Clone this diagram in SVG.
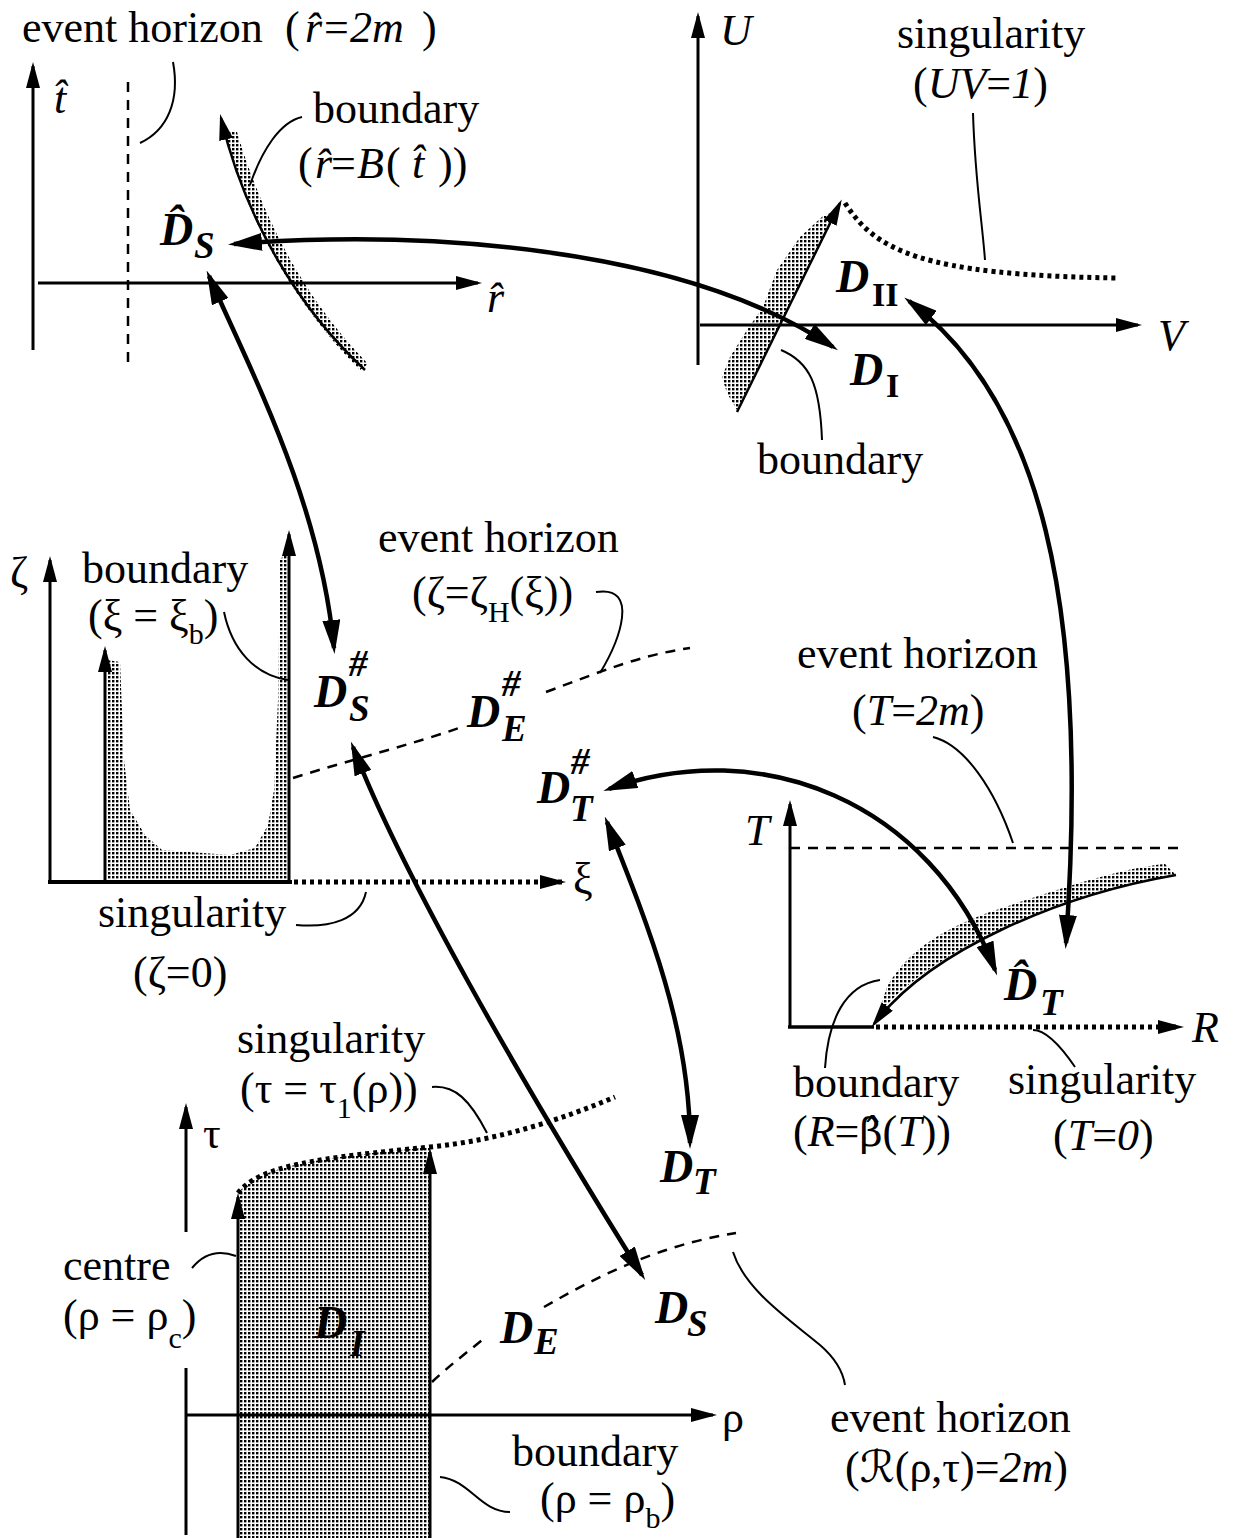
<svg xmlns="http://www.w3.org/2000/svg" width="1238" height="1538" viewBox="0 0 1238 1538">
<style>
text{font-family:"Liberation Serif","Times New Roman","DejaVu Serif","DejaVu Sans",serif;font-size:44px;fill:#000}
.it{font-style:italic}
.D{font-weight:bold;font-style:italic;font-size:46px}
.ds{font-weight:bold;font-style:italic;font-size:37px}
.sb{font-size:30px}
.bu{font-weight:bold;font-size:34px}
.ax{stroke:#000;stroke-width:3;fill:none}
.thick{stroke:#000;stroke-width:4.5;fill:none}
.thin{stroke:#000;stroke-width:2;fill:none}
.bd{stroke:#000;stroke-width:2.5;fill:none}
.dash{stroke:#000;stroke-width:2.5;fill:none;stroke-dasharray:10 8}
.dot{stroke:#000;stroke-width:5;fill:none;stroke-dasharray:4 4}
.shade{fill:url(#dots);stroke:none}
</style>
<defs>
<pattern id="dots" width="4" height="4" patternUnits="userSpaceOnUse"><rect width="2.4" height="2.4" fill="#000"/></pattern>
<marker id="ax" viewBox="0 0 26 14" refX="22" refY="7" markerWidth="26" markerHeight="14" markerUnits="userSpaceOnUse" orient="auto"><path d="M0,0 L26,7 L0,14 Z" fill="#000"/></marker>
<marker id="big" viewBox="0 0 34 18" refX="28" refY="9" markerWidth="34" markerHeight="18" markerUnits="userSpaceOnUse" orient="auto-start-reverse"><path d="M0,0 L34,9 L0,18 Z" fill="#000"/></marker>
</defs>
<rect width="1238" height="1538" fill="#fff"/>

<!-- Top-left panel (t-hat, r-hat) -->
<g id="panel-schwarzschild">
<path class="shade" d="M224,132 C 250,230 300,310 360,370 L368,364 C 308,302 265,226 237,132 Z"/>
<line class="ax" x1="33" y1="350" x2="33" y2="66" marker-end="url(#ax)"/>
<line class="ax" x1="38" y1="283" x2="478" y2="283" marker-end="url(#ax)"/>
<line class="dash" x1="128" y1="82" x2="128" y2="362"/>
<path class="bd" d="M365,370 C 300,310 245,220 221,118" marker-end="url(#ax)"/>
<path class="thin" d="M173,62 C 180,100 168,130 140,143"/>
<path class="thin" d="M302,117 C 280,122 262,150 250,185"/>
<text x="22" y="42">event horizon</text>
<text y="42"><tspan x="285">(</tspan><tspan class="it" x="305">r̂</tspan><tspan x="324">=</tspan><tspan class="it" x="350">2m</tspan><tspan x="422">)</tspan></text>
<text class="it" x="54" y="113">t̂</text>
<text class="it" x="487" y="312">r̂</text>
<text x="313" y="123">boundary</text>
<text y="178"><tspan x="298">(</tspan><tspan class="it" x="315">r̂</tspan><tspan x="331">=</tspan><tspan class="it" x="357">B</tspan><tspan x="386">(</tspan><tspan class="it" x="412">t̂</tspan><tspan x="438">))</tspan></text>
</g>
<g id="node-DS-hat"><text class="D" x="160" y="245">D̂</text><text class="ds" x="194" y="258">S</text></g>

<!-- Top-right panel (U, V) -->
<g id="panel-kruskal">
<path class="shade" d="M737,410 L838,210 L823,216 L800,237 L777,270 L763,307 L747,330 L730,357 L722,377 L727,393 Z"/>
<line class="ax" x1="698" y1="365" x2="698" y2="16" marker-end="url(#ax)"/>
<line class="ax" x1="700" y1="325" x2="1138" y2="325" marker-end="url(#ax)"/>
<line class="bd" x1="737" y1="412" x2="840" y2="203" marker-end="url(#ax)"/>
<path class="dot" d="M845,203 C 875,250 920,275 1116,278"/>
<path class="thin" d="M973,113 C 975,180 982,220 985,260"/>
<path class="thin" d="M781,350 C 810,362 820,385 822,440"/>
<text class="it" x="720" y="45">U</text>
<text class="it" x="1158" y="350">V</text>
<text x="897" y="48">singularity</text>
<text y="98"><tspan x="913">(</tspan><tspan class="it">UV</tspan>=<tspan class="it">1</tspan>)</text>
<text x="757" y="474">boundary</text>
</g>
<g id="node-DII"><text class="D" x="836" y="292">D</text><text class="bu" x="872" y="306">II</text></g>
<g id="node-DI"><text class="D" x="850" y="385">D</text><text class="bu" x="886" y="397">I</text></g>

<!-- Middle-left panel (zeta, xi) -->
<g id="panel-xi-zeta">
<path class="shade" d="M107,660 L120,662 L124,760 L130,810 L145,835 L162,850 L230,855 L255,848 L268,825 L274,790 L278,700 L280,560 L289,548 L289,880 L107,880 Z"/>
<line class="ax" x1="50" y1="883" x2="50" y2="560" marker-end="url(#ax)"/>
<line class="ax" x1="105" y1="880" x2="105" y2="650" marker-end="url(#ax)"/>
<line class="ax" x1="289" y1="880" x2="289" y2="534" marker-end="url(#ax)"/>
<line x1="48" y1="882" x2="292" y2="882" stroke="#000" stroke-width="4"/>
<line class="dot" x1="294" y1="882" x2="562" y2="882" marker-end="url(#ax)"/>
<path class="dash" d="M293,778 C 350,760 410,745 462,727"/>
<path class="dash" d="M546,692 C 600,672 640,655 690,648"/>
<path class="thin" d="M224,612 C 232,650 255,675 288,680"/>
<path class="thin" d="M596,592 C 640,585 620,640 600,673"/>
<path class="thin" d="M296,925 C 330,928 360,920 366,892"/>
<text x="10" y="587">ζ</text>
<text x="573" y="893">ξ</text>
<text x="82" y="583">boundary</text>
<text x="88" y="630">(ξ = ξ<tspan class="sb" dy="14">b</tspan><tspan dy="-14">)</tspan></text>
<text x="378" y="552">event horizon</text>
<text x="412" y="607">(ζ=ζ<tspan class="sb" dy="15">H</tspan><tspan dy="-15">(ξ))</tspan></text>
<text x="98" y="927">singularity</text>
<text x="133" y="987">(ζ=0)</text>
</g>
<g id="node-DS-sharp"><text class="D" x="314" y="707">D</text><text class="ds" x="349" y="676">#</text><text class="ds" x="349" y="721">S</text></g>
<g id="node-DE-sharp"><text class="D" x="467" y="727">D</text><text class="ds" x="502" y="696">#</text><text class="ds" x="502" y="741">E</text></g>
<g id="node-DT-sharp"><text class="D" x="537" y="803">D</text><text class="ds" x="571" y="774">#</text><text class="ds" x="570" y="821">T</text></g>

<!-- Middle-right panel (T, R) -->
<g id="panel-T-R">
<path class="shade" d="M1176,875 C 1060,895 930,950 878,1015 L887,987 C 905,955 935,932 990,912 C 1050,892 1120,868 1165,864 Z"/>
<line class="ax" x1="790" y1="1028" x2="790" y2="804" marker-end="url(#ax)"/>
<line x1="788" y1="1027" x2="874" y2="1027" stroke="#000" stroke-width="3.5"/>
<line class="dot" x1="876" y1="1027" x2="1180" y2="1027" marker-end="url(#ax)"/>
<line class="dash" x1="790" y1="848" x2="1178" y2="848"/>
<path class="bd" d="M1176,875 C 1060,895 930,950 874,1024" marker-end="url(#ax)"/>
<path class="thin" d="M933,737 C 965,745 995,790 1013,843"/>
<path class="thin" d="M825,1068 C 828,1020 845,985 880,980"/>
<path class="thin" d="M1075,1067 C 1060,1045 1045,1030 1033,1030"/>
<text class="it" x="745" y="845">T</text>
<text class="it" x="1192" y="1042">R</text>
<text x="797" y="668">event horizon</text>
<text x="852" y="725">(<tspan class="it">T</tspan>=<tspan class="it">2m</tspan>)</text>
<text x="793" y="1097">boundary</text>
<text x="793" y="1146">(<tspan class="it">R</tspan>=<tspan font-family="'DejaVu Serif',serif" font-size="40">β̂</tspan>(<tspan class="it">T</tspan>))</text>
<text x="1008" y="1094">singularity</text>
<text x="1053" y="1150">(<tspan class="it">T</tspan>=<tspan class="it">0</tspan>)</text>
</g>
<g id="node-DT-hat"><text class="D" x="1004" y="1000">D̂</text><text class="ds" x="1040" y="1015">T</text></g>

<!-- Bottom panel (tau, rho) -->
<g id="panel-tau-rho">
<path class="shade" d="M238,1538 L238,1193 C 260,1165 320,1158 430,1147 L430,1538 Z"/>
<line class="ax" x1="238" y1="1538" x2="238" y2="1197" marker-end="url(#ax)"/>
<line class="ax" x1="430" y1="1538" x2="430" y2="1152" marker-end="url(#ax)"/>
<path class="dot" d="M238,1193 C 260,1165 320,1158 430,1147 C 500,1140 560,1120 615,1097"/>
<line class="ax" x1="186" y1="1232" x2="186" y2="1107" marker-end="url(#ax)"/>
<line class="ax" x1="186" y1="1368" x2="186" y2="1535"/>
<line class="ax" x1="186" y1="1415" x2="713" y2="1415" marker-end="url(#ax)"/>
<path class="dash" d="M432,1382 C 450,1365 470,1350 486,1337"/>
<path class="dash" d="M544,1307 C 600,1275 660,1245 736,1233"/>
<path class="thin" d="M432,1087 C 455,1085 470,1100 487,1133"/>
<path class="thin" d="M192,1268 C 205,1252 220,1250 236,1256"/>
<path class="thin" d="M440,1477 C 470,1480 480,1512 510,1512"/>
<path class="thin" d="M733,1252 C 745,1290 790,1320 820,1345 C 835,1358 843,1372 845,1385"/>
<text x="203" y="1148">τ</text>
<text x="722" y="1432">ρ</text>
<text x="237" y="1053">singularity</text>
<text x="240" y="1103">(τ = τ<tspan class="sb" dy="15">1</tspan><tspan dy="-15">(ρ))</tspan></text>
<text x="63" y="1280">centre</text>
<text x="63" y="1330">(ρ = ρ<tspan class="sb" dy="18">c</tspan><tspan dy="-18">)</tspan></text>
<text x="512" y="1466">boundary</text>
<text x="540" y="1513">(ρ = ρ<tspan class="sb" dy="15">b</tspan><tspan dy="-15">)</tspan></text>
<text x="830" y="1432">event horizon</text>
<text x="845" y="1482">(ℛ(ρ,τ)=<tspan class="it">2m</tspan>)</text>
</g>
<g id="node-DI-tau"><text class="D" x="314" y="1338">D</text><text class="ds" x="350" y="1356">I</text></g>
<g id="node-DE"><text class="D" x="500" y="1343">D</text><text class="ds" x="534" y="1354">E</text></g>
<g id="node-DS"><text class="D" x="655" y="1323">D</text><text class="ds" x="687" y="1336">S</text></g>
<g id="node-DT"><text class="D" x="660" y="1182">D</text><text class="ds" x="693" y="1194">T</text></g>

<!-- Connectors -->
<g id="connectors">
<path class="thick" d="M234,244 C 420,230 680,245 833,347" marker-start="url(#big)" marker-end="url(#big)"/>
<path class="thick" d="M209,276 C 250,370 320,500 334,648" marker-start="url(#big)" marker-end="url(#big)"/>
<path class="thick" d="M353,747 C 400,870 520,1080 642,1275" marker-start="url(#big)" marker-end="url(#big)"/>
<path class="thick" d="M607,822 C 650,930 690,1030 690,1143" marker-start="url(#big)" marker-end="url(#big)"/>
<path class="thick" d="M609,789 C 760,735 930,800 995,970" marker-start="url(#big)" marker-end="url(#big)"/>
<path class="thick" d="M909,301 C 1040,400 1090,600 1066,943" marker-start="url(#big)" marker-end="url(#big)"/>
</g>
</svg>
